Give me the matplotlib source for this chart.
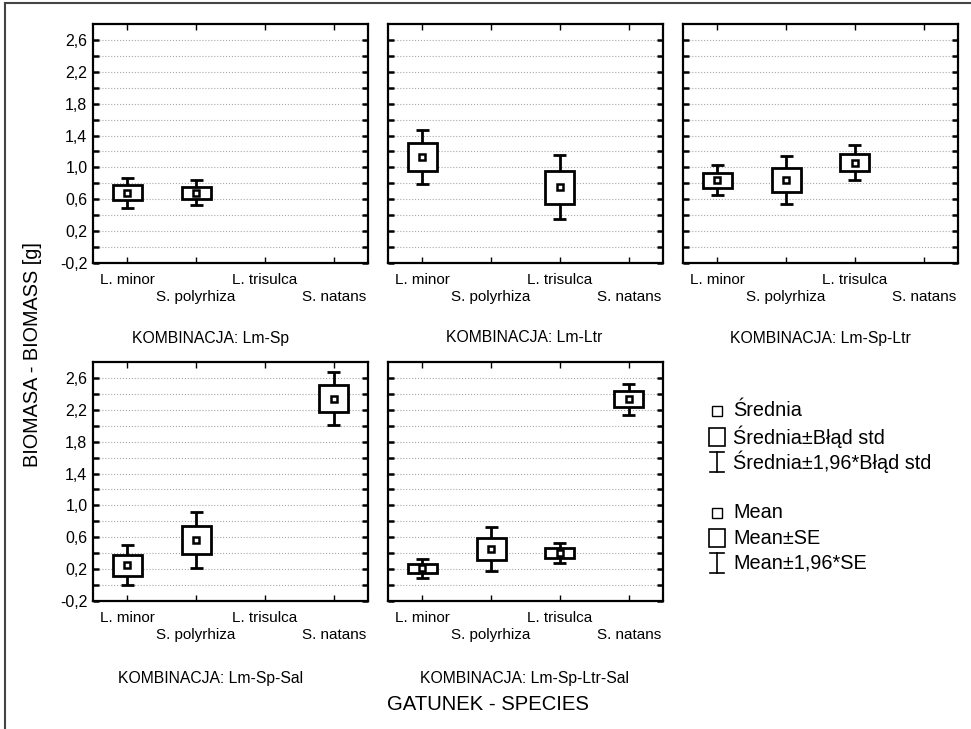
import numpy as np
import matplotlib
matplotlib.use("Agg")
import matplotlib.pyplot as plt
from matplotlib.patches import Rectangle
from matplotlib.lines import Line2D

plt.rcParams['font.family'] = ['Liberation Sans', 'DejaVu Sans']

# Data
species = ['L. minor', 'S. polyrhiza', 'L. trisulca', 'S. natans']
combos = ['Lm-Sp', 'Lm-Ltr', 'Lm-Sp-Ltr', 'Lm-Sp-Sal', 'Lm-Sp-Ltr-Sal']

lm_sp_mean = [0.68, 0.68, None, None]
lm_sp_se = [0.095, 0.08, None, None]
lm_ltr_mean = [1.13, None, 0.75, None]
lm_ltr_se = [0.17, None, 0.205, None]
lm_sp_ltr_mean = [0.84, 0.84, 1.06, None]
lm_sp_ltr_se = [0.095, 0.155, 0.11, None]
lm_sp_sal_mean = [0.25, 0.565, None, 2.34]
lm_sp_sal_se = [0.13, 0.18, None, 0.17]
lm_sp_ltr_sal_mean = [0.21, 0.455, 0.40, 2.33]
lm_sp_ltr_sal_se = [0.06, 0.14, 0.063, 0.10]

means = [lm_sp_mean, lm_ltr_mean, lm_sp_ltr_mean, lm_sp_sal_mean, lm_sp_ltr_sal_mean]
ses = [lm_sp_se, lm_ltr_se, lm_sp_ltr_se, lm_sp_sal_se, lm_sp_ltr_sal_se]

W, H = 971, 729
fig = plt.figure(figsize=(W / 100, H / 100), dpi=100)

# axes boxes in pixels: left, right, top, bottom
cols = [(93, 368), (388, 663), (683, 958)]
rows = [(24, 263), (362, 601)]
title_x = [211, 524, 820]
title_y = [338, 678]


def fx(x):
    return x / W


def fy(y):
    return 1 - y / H


def fmt(v):
    return f"{v:.1f}".replace('.', ',').replace('-0,0', '0,0')


for i, combo in enumerate(combos):
    r, c = divmod(i, 3)
    l, rr = cols[c]
    t, b = rows[r]
    ax = fig.add_axes([fx(l), fy(b), (rr - l) / W, (b - t) / H])
    ax.set_xlim(-0.5, 3.5)
    ax.set_ylim(-0.2, 2.8)

    major = np.arange(-0.2, 2.61, 0.4)
    minor = np.arange(0.0, 2.41, 0.4)
    ax.set_yticks(major)
    ax.set_yticks(minor, minor=True)
    if c == 0:
        ax.set_yticklabels([fmt(v) for v in major])
    else:
        ax.set_yticklabels([])
    ax.yaxis.grid(True, which='both', linestyle=':', color='#a8a8a8', lw=0.8)
    ax.set_axisbelow(True)

    ax.set_xticks(range(len(species)))
    ax.set_xticklabels([s if k % 2 == 0 else '\n' + s for k, s in enumerate(species)])
    for lbl in ax.get_xticklabels():
        lbl.set_linespacing(1.3)

    ax.tick_params(axis='y', which='both', direction='in', length=4, width=1.8,
                   left=True, right=True, labelsize=11.5, pad=4)
    ax.tick_params(axis='x', direction='in', length=4, width=1.0,
                   top=True, bottom=True, labelsize=11, pad=7)
    for sp in ax.spines.values():
        sp.set_linewidth(1.6)

    for k, (m, se) in enumerate(zip(means[i], ses[i])):
        if m is None:
            continue
        bw, cw = 0.21, 0.095
        w = 1.96 * se
        ax.vlines(k, m + se, m + w, color='black', lw=2, zorder=3)
        ax.vlines(k, m - w, m - se, color='black', lw=2, zorder=3)
        ax.hlines([m + w, m - w], k - cw, k + cw, color='black', lw=2, zorder=3)
        ax.add_patch(Rectangle((k - bw, m - se), 2 * bw, 2 * se, facecolor='white',
                               edgecolor='black', lw=2, zorder=4))
        ax.plot(k, m, 's', ms=5, mfc='white', mec='black', mew=1.8, zorder=5)

    fig.text(fx(title_x[c]), fy(title_y[r]), 'KOMBINACJA: ' + combo,
             ha='center', va='center', fontsize=11.3)

# legend panel
lg = fig.add_axes([fx(700), fy(590), 271 / W, 200 / H])
lg.set_xlim(700, 971)
lg.set_ylim(590, 390)
lg.axis('off')
leg_text = ['Średnia', 'Średnia±Błąd std', 'Średnia±1,96*Błąd std',
            'Mean', 'Mean±SE', 'Mean±1,96*SE']
leg_y = [411, 437, 462, 513, 538, 563]
for k, (txt, y) in enumerate(zip(leg_text, leg_y)):
    kind = k % 3
    if kind == 0:
        lg.plot(717, y, 's', ms=7.5, mfc='white', mec='black', mew=1)
    elif kind == 1:
        lg.add_patch(Rectangle((709, y - 9), 16, 18, facecolor='white',
                               edgecolor='black', lw=1.2))
    else:
        lg.plot([717, 717], [y - 10, y + 10], color='black', lw=1.2)
        lg.plot([710, 724], [y - 10, y - 10], color='black', lw=1.2)
        lg.plot([710, 724], [y + 10, y + 10], color='black', lw=1.2)
    lg.text(733, y, txt, ha='left', va='center', fontsize=14.3)

fig.text(fx(33), fy(355), 'BIOMASA - BIOMASS [g]', rotation=90,
         ha='center', va='center', fontsize=14.3)
fig.text(fx(488), fy(705), 'GATUNEK - SPECIES', ha='center', va='center', fontsize=14.6)

# outer frame (top and left edges)
fig.add_artist(Line2D([fx(5), 1], [fy(3), fy(3)], color='#444444', lw=1.5))
fig.add_artist(Line2D([fx(5), fx(5)], [0, fy(3)], color='#444444', lw=1.5))

fig.savefig('out.png', dpi=100)
